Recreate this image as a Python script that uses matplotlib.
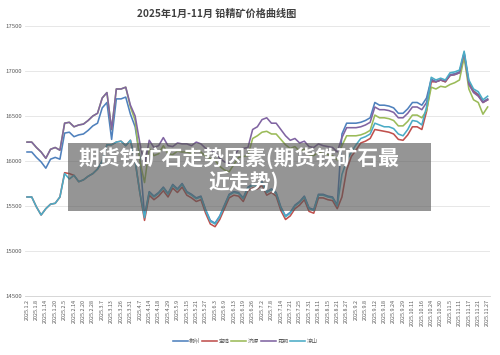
import matplotlib
matplotlib.use("Agg")
import matplotlib.pyplot as plt
from matplotlib.patches import Rectangle

plt.rcParams['font.family'] = ['Noto Sans CJK SC', 'DejaVu Sans']

dates = ["2025.1.2", "2025.1.8", "2025.1.14", "2025.1.20", "2025.2.5", "2025.2.14", "2025.2.20", "2025.2.28",
         "2025.3.7", "2025.3.13", "2025.3.26", "2025.3.31", "2025.4.7", "2025.4.14", "2025.4.18", "2025.4.29",
         "2025.5.9", "2025.5.15", "2025.5.21", "2025.5.27", "2025.6.3", "2025.6.9", "2025.6.13", "2025.6.19",
         "2025.6.26", "2025.7.2", "2025.7.8", "2025.7.14", "2025.7.21", "2025.7.25", "2025.7.31", "2025.8.11",
         "2025.8.15", "2025.8.21", "2025.8.27", "2025.9.2", "2025.9.8", "2025.9.12", "2025.9.18", "2025.9.24",
         "2025.9.29", "2025.10.11", "2025.10.16", "2025.10.24", "2025.10.30", "2025.11.5", "2025.11.11",
         "2025.11.17", "2025.11.21", "2025.11.27"]

chenzhou = [16100, 16100, 16040, 15990, 15920, 16020, 16040, 16020,
            16310, 16320, 16270, 16290, 16300, 16340, 16390, 16420, 16590, 16650, 16240, 16690, 16690, 16710,
            16520, 16380, 16050, 15390,
            15660, 15610, 15650, 15710, 15640, 15740, 15690, 15750, 15660, 15630, 15590, 15610, 15460, 15340,
            15310, 15390, 15510, 15630, 15660, 15650, 15590, 15710, 15740, 15730, 15770, 15660, 15690, 15650,
            15490, 15390, 15430, 15510, 15550, 15610, 15480, 15460, 15630, 15630, 15610, 15600, 15510,
            16300, 16420, 16420, 16420, 16430, 16450, 16480, 16650, 16620, 16620, 16610, 16590, 16530, 16530,
            16580, 16650, 16650, 16620, 16700,
            16910, 16880, 16900, 16880, 16960, 16970, 16990, 17200, 16880, 16780, 16740, 16660, 16690]

baoji = [15600, 15600, 15490, 15400, 15470, 15520, 15530, 15600,
         15870, 15860, 15840, 15770, 15790, 15830, 15860, 15910, 16000, 16180, 16180, 16210, 16220, 16170,
         16230, 16000, 15650, 15340,
         15620, 15570, 15610, 15670, 15600, 15700, 15650, 15710, 15620, 15590, 15550, 15570, 15420, 15300,
         15270, 15350, 15470, 15590, 15620, 15610, 15550, 15670, 15700, 15690, 15730, 15620, 15650, 15610,
         15450, 15350, 15390, 15470, 15510, 15570, 15440, 15420, 15590, 15590, 15570, 15560, 15470,
         15600, 15900, 16050, 16120, 16200, 16220, 16250, 16350, 16340, 16330, 16320, 16300, 16240, 16230,
         16290, 16380, 16380, 16350, 16550,
         16880, 16880, 16900, 16880, 16950, 16960, 16980, 17180, 16870, 16770, 16730, 16650, 16680]

jiyuan = [16210, 16210, 16150, 16100, 16030, 16130, 16150, 16120,
          16420, 16430, 16380, 16400, 16410, 16450, 16500, 16530, 16700, 16760, 16350, 16800, 16800, 16820,
          16600, 16450, 16000, 15760,
          16140, 16060, 16080, 16170, 16080, 16070, 16110, 16100, 16100, 16080, 16120, 16100, 16050, 16030,
          16010, 15940, 15900, 15880, 15960, 16040, 16050, 16060, 16250, 16280, 16320, 16330, 16300, 16300,
          16240, 16180, 16140, 16160, 16110, 16130, 16070, 16060, 16100, 16080, 16070, 16060, 16010,
          16170, 16280, 16280, 16280, 16290, 16310, 16340, 16510, 16480, 16480, 16470, 16450, 16390, 16390,
          16440, 16510, 16510, 16480, 16560,
          16820, 16800, 16830, 16820, 16850, 16870, 16900, 17150, 16800, 16680, 16650, 16520, 16600]

kunming = [16210, 16210, 16150, 16100, 16030, 16130, 16150, 16120,
           16420, 16430, 16380, 16400, 16410, 16450, 16500, 16530, 16700, 16760, 16350, 16800, 16800, 16820,
           16620, 16500, 16200, 15950,
           16230, 16150, 16170, 16260, 16170, 16160, 16200, 16190, 16190, 16170, 16210, 16190, 16140, 16120,
           16100, 16030, 15990, 15970, 16050, 16130, 16140, 16150, 16350, 16380, 16460, 16480, 16420, 16420,
           16350, 16280, 16230, 16250, 16200, 16220, 16160, 16150, 16190, 16170, 16160, 16150, 16100,
           16260, 16370, 16370, 16370, 16380, 16400, 16430, 16600, 16570, 16570, 16560, 16540, 16480, 16480,
           16530, 16600, 16600, 16570, 16650,
           16900, 16880, 16900, 16890, 16950, 16960, 16980, 17200, 16850, 16760, 16720, 16650, 16680]

liangshan = [15600, 15600, 15490, 15400, 15470, 15520, 15530, 15600,
             15860, 15800, 15840, 15770, 15790, 15830, 15860, 15910, 16000, 16180, 16180, 16210, 16220, 16170,
             16230, 16000, 15650, 15370,
             15650, 15600, 15640, 15700, 15630, 15730, 15680, 15740, 15650, 15620, 15580, 15600, 15450, 15330,
             15300, 15380, 15500, 15620, 15650, 15640, 15580, 15700, 15730, 15720, 15760, 15650, 15680, 15640,
             15480, 15380, 15420, 15500, 15540, 15600, 15470, 15450, 15620, 15620, 15600, 15590, 15500,
             15850, 16000, 16100, 16180, 16250, 16270, 16300, 16420, 16400, 16380, 16380, 16360, 16300, 16280,
             16350, 16450, 16440, 16400, 16600,
             16930, 16900, 16920, 16900, 16980, 16990, 17010, 17220, 16900, 16800, 16770, 16680, 16720]

series = [("郴州", chenzhou, "#4F81BD"), ("宝鸡", baoji, "#C0504D"), ("济源", jiyuan, "#9BBB59"),
          ("昆明", kunming, "#8064A2"), ("凉山", liangshan, "#4BACC6")]

yticks = [14500, 15000, 15500, 16000, 16500, 17000, 17500]

fig = plt.figure(figsize=(5, 3.55), dpi=100)
ax = fig.add_axes([0.05, 0.1662, 0.93, 0.7606])

n = len(kunming)
xs = list(range(n))
for name, vals, col in series:
    ax.plot(xs, vals, color=col, lw=1.15, label=name, solid_joinstyle='round')

ax.set_ylim(14500, 17500)
ax.set_xlim(-0.43, 98.5)
ax.set_yticks(yticks)
ax.set_yticklabels([str(v) for v in yticks], fontsize=4.3, color="#595959")
ax.set_xticks(list(range(0, n, 2)))
ax.set_xticklabels(dates, rotation=90, fontsize=3.9, color="#595959")
ax.tick_params(axis='both', length=0, pad=2)
ax.grid(axis='y', color="#e3e3e3", lw=0.6)
ax.set_axisbelow(True)
for s in ['top', 'right', 'left']:
    ax.spines[s].set_visible(False)
ax.spines['bottom'].set_color("#d0d0d0")
ax.spines['bottom'].set_linewidth(0.6)

fig.text(0.434, 0.96, "2025年1月-11月 铅精矿价格曲线图", ha='center', va='center',
         fontsize=7.3, fontweight='bold', color="#404040")

leg = fig.legend(loc='center', bbox_to_anchor=(0.49, 0.04), ncol=5, frameon=False,
                 fontsize=4.0, handlelength=2.7, handletextpad=0.3, columnspacing=0.3)
for t in leg.get_texts():
    t.set_color("#595959")

fig.patches.append(Rectangle((0.136, 0.4056), 0.726, 0.1915, transform=fig.transFigure,
                             facecolor="#555555", alpha=0.62, edgecolor='none', zorder=10))
fig.text(0.478, 0.551, "期货铁矿石走势因素(期货铁矿石最", ha='center', va='center', fontsize=15,
         fontweight='bold', color='white', zorder=11)
fig.text(0.488, 0.487, "近走势)", ha='center', va='center', fontsize=15,
         fontweight='bold', color='white', zorder=11)

fig.savefig("out.png", dpi=100)
